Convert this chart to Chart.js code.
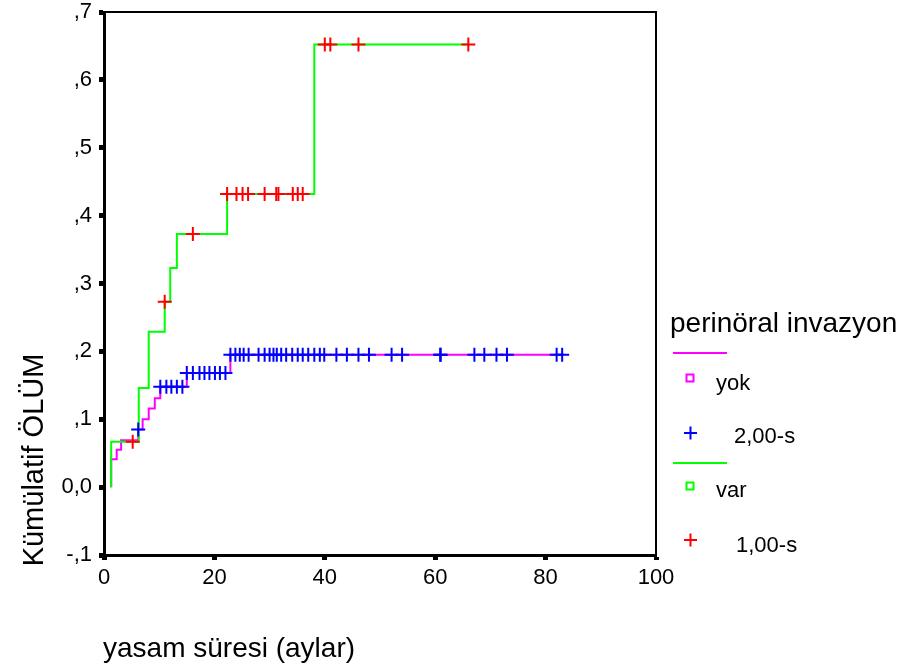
<!DOCTYPE html>
<html>
<head>
<meta charset="utf-8">
<script src="https://cdn.jsdelivr.net/npm/chart.js@4"></script>
<style>
  body { margin: 0; background: #fff; }
  canvas { display: block; }
</style>
</head>
<body>
<canvas id="kmChart" width="904" height="665"></canvas>
<script>
// Kaplan-Meier: kümülatif ölüm, perinöral invazyon yok / var

// yok (magenta) step points
const yokTimes = [1.3, 1.3, 2.3, 3.1, 6.2, 7.0, 8.1, 9.2, 10.2, 15.0, 22.9, 83.0];
const yokDeath = [0, .041, .055, .069, .085, .100, .116, .131, .148, .168, .195, .195];
// yok censored (2,00-s)
const yokCensored = [
  6.2, 10.2, 11.3, 12.2, 13.2, 14.2,
  15.0, 16.1, 17.3, 18.2, 19.1, 20.1, 21.0, 22.0,
  22.9, 23.8, 24.6, 25.3, 26.2, 28.0, 29.1, 30.0, 30.7, 31.3, 32.1, 33.0,
  34.1, 35.1, 36.0, 37.0, 38.1, 39.1, 39.9, 42.1, 44.0, 46.1, 48.0,
  52.1, 54.0, 60.9, 61.0, 67.1, 68.9, 71.1, 73.0, 82.0, 83.0
];

// var (green) step points
const varTimes = [1.3, 1.3, 6.3, 8.1, 11.0, 12.0, 13.2, 22.3, 38.1, 66.0];
const varDeath = [0, .067, .146, .229, .273, .323, .373, .432, .652, .652];
// var censored (1,00-s)
const varCensored = [
  5.2, 11.0, 16.1, 22.3, 24.0, 25.1, 26.1, 29.1, 31.2, 31.6,
  34.2, 35.1, 36.0, 40.0, 41.0, 46.1, 66.0
];

const yTicks = [-0.1, 0, 0.1, 0.2, 0.3, 0.4, 0.5, 0.6, 0.7];
const xTicks = [0, 20, 40, 60, 80, 100];

const FONT = "'Liberation Sans', Arial, sans-serif";

function levelAt(times, deaths, t) {
  let v = 0;
  for (let i = 0; i < times.length; i++) {
    if (times[i] <= t + 1e-9) v = deaths[i];
  }
  return v;
}

function stepPoints(times, deaths) {
  return times.map((t, i) => ({ x: t, y: deaths[i] }));
}

function censorPoints(list, times, deaths) {
  return list.map(t => ({ x: t, y: levelAt(times, deaths, t) }));
}

function yLabel(v) {
  const r = Math.round(v * 10);
  if (r === 0) return "0,0";
  return (r < 0 ? "-" : "") + "," + Math.abs(r);
}

const frameAndLegend = {
  id: "frameAndLegend",
  afterDraw(chart) {
    const ctx = chart.ctx;
    const a = chart.chartArea;
    ctx.save();

    // top + right frame
    ctx.strokeStyle = "#000";
    ctx.lineWidth = 2;
    ctx.beginPath();
    ctx.moveTo(a.left, a.top);
    ctx.lineTo(a.right, a.top);
    ctx.lineTo(a.right, a.bottom);
    ctx.stroke();

    // axis titles
    ctx.fillStyle = "#000";
    ctx.textBaseline = "alphabetic";
    ctx.font = "28px " + FONT;
    ctx.textAlign = "left";
    ctx.fillText("yasam süresi (aylar)", 103, 657);

    ctx.save();
    ctx.translate(43, 460);
    ctx.rotate(-Math.PI / 2);
    ctx.textAlign = "center";
    ctx.font = "29px " + FONT;
    ctx.fillText("Kümülatif ÖLÜM", 0, 0);
    ctx.restore();

    // legend
    ctx.textAlign = "left";
    ctx.font = "28px " + FONT;
    ctx.fillText("perinöral invazyon", 670, 332);

    ctx.font = "22px " + FONT;
    const groups = [
      { lineY: 353, color: "#ff00ff", cross: "#0000ff", name: "yok", cens: "2,00-s", sqY: 378, nameY: 390, crY: 433, censY: 443, censX: 734 },
      { lineY: 463, color: "#00ff00", cross: "#ff0000", name: "var", cens: "1,00-s", sqY: 486, nameY: 497, crY: 540, censY: 552, censX: 736 }
    ];
    groups.forEach(g => {
      ctx.strokeStyle = g.color;
      ctx.lineWidth = 2;
      ctx.beginPath();
      ctx.moveTo(673, g.lineY);
      ctx.lineTo(727, g.lineY);
      ctx.stroke();

      ctx.strokeRect(686.5, g.sqY - 3.5, 7, 7);
      ctx.fillStyle = "#000";
      ctx.fillText(g.name, 716, g.nameY);

      ctx.strokeStyle = g.cross;
      ctx.beginPath();
      ctx.moveTo(684, g.crY);
      ctx.lineTo(697, g.crY);
      ctx.moveTo(690.5, g.crY - 6.5);
      ctx.lineTo(690.5, g.crY + 6.5);
      ctx.stroke();
      ctx.fillText(g.cens, g.censX, g.censY);
    });

    ctx.restore();
  }
};

new Chart(document.getElementById("kmChart"), {
  type: "scatter",
  data: {
    datasets: [
      {
        label: "2,00-s",
        data: censorPoints(yokCensored, yokTimes, yokDeath),
        pointStyle: "cross",
        pointRadius: 7,
        borderColor: "#0000ff",
        borderWidth: 2,
        showLine: false
      },
      {
        label: "1,00-s",
        data: censorPoints(varCensored, varTimes, varDeath),
        pointStyle: "cross",
        pointRadius: 7,
        borderColor: "#ff0000",
        borderWidth: 2,
        showLine: false
      },
      {
        label: "var",
        data: stepPoints(varTimes, varDeath),
        showLine: true,
        stepped: true,
        borderColor: "#00ff00",
        borderWidth: 2,
        pointRadius: 0,
        fill: false
      },
      {
        label: "yok",
        data: stepPoints(yokTimes, yokDeath),
        showLine: true,
        stepped: true,
        borderColor: "#ff00ff",
        borderWidth: 2,
        pointRadius: 0,
        fill: false
      }
    ]
  },
  options: {
    responsive: false,
    animation: false,
    layout: { padding: { left: 0, right: 248, top: 12, bottom: 0 } },
    plugins: {
      legend: { display: false },
      tooltip: { enabled: false }
    },
    scales: {
      x: {
        type: "linear",
        min: 0,
        max: 100,
        afterBuildTicks: s => { s.ticks = xTicks.map(v => ({ value: v })); },
        ticks: { color: "#000", font: { family: FONT, size: 22 }, padding: 5, maxRotation: 0 },
        grid: { drawOnChartArea: false, tickLength: 5, tickWidth: 5, tickColor: "#000" },
        border: { color: "#000", width: 3 },
        afterFit: s => { s.height = 110; s.paddingLeft = 0; s.paddingRight = 0; }
      },
      y: {
        min: -0.1,
        max: 0.7,
        afterBuildTicks: s => { s.ticks = yTicks.map(v => ({ value: v })); },
        ticks: { color: "#000", font: { family: FONT, size: 22 }, padding: 7, callback: v => yLabel(v) },
        grid: { drawOnChartArea: false, tickLength: 5, tickWidth: 5, tickColor: "#000" },
        border: { color: "#000", width: 3 },
        afterFit: s => { s.width = 104; s.paddingTop = 0; s.paddingBottom = 0; }
      }
    }
  },
  plugins: [frameAndLegend]
});
</script>
</body>
</html>
